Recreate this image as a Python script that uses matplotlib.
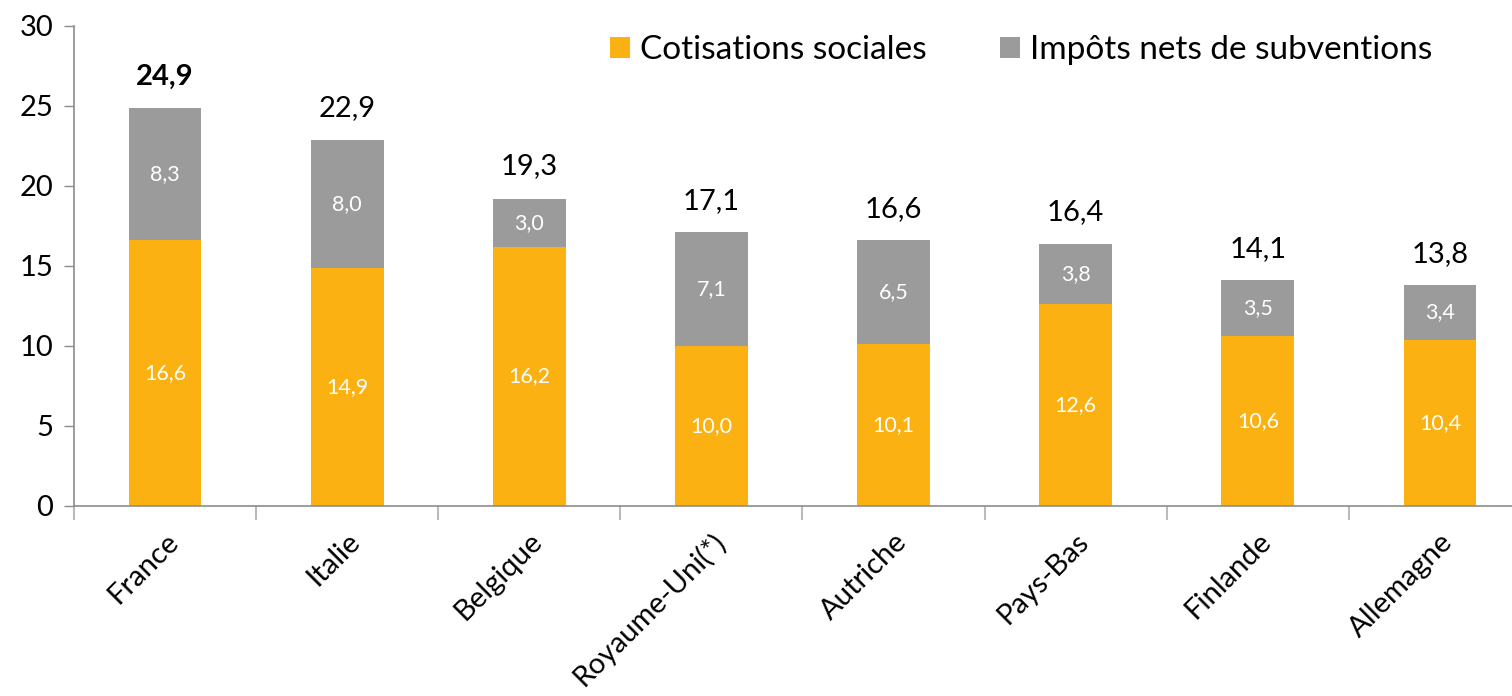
import numpy as np
import matplotlib.pyplot as plt

plt.rcParams['font.family'] = ['Lato', 'DejaVu Sans']

# data
pays = ["France", "Italie", "Belgique", "Royaume-Uni(*)", "Autriche",
        "Pays-Bas", "Finlande", "Allemagne"]
cotisations = [16.6, 14.9, 16.2, 10.0, 10.1, 12.6, 10.6, 10.4]
impots = [8.3, 8.0, 3.0, 7.1, 6.5, 3.8, 3.5, 3.4]
totaux = [24.9, 22.9, 19.3, 17.1, 16.6, 16.4, 14.1, 13.8]

ORANGE = "#FBB111"
GRIS = "#9B9B9B"
AXE = "#8C8C8C"


def fr(v):
    return f"{v:.1f}".replace(".", ",")


fig = plt.figure(figsize=(15.12, 6.96), dpi=100)
ax = fig.add_axes([74 / 1512, 1 - 506 / 696, 1457 / 1512, 480 / 696])

x = np.arange(len(pays))
w = 0.40
b1 = ax.bar(x, cotisations, w, color=ORANGE, label="Cotisations sociales")
b2 = ax.bar(x, impots, w, bottom=cotisations, color=GRIS,
            label="Impôts nets de subventions")

# values inside the segments + totals on top
for i in range(len(pays)):
    ax.text(x[i], cotisations[i] / 2, fr(cotisations[i]), ha="center",
            va="center", color="white", fontsize=15.5)
    ax.text(x[i], cotisations[i] + impots[i] / 2, fr(impots[i]), ha="center",
            va="center", color="white", fontsize=15.5)
    ax.annotate(fr(totaux[i]), (x[i], totaux[i]), xytext=(0, 13),
                textcoords="offset points", ha="center", va="bottom",
                fontsize=21, color="black",
                fontweight="bold" if i == 0 else "normal")

ax.set_xlim(-0.5, len(pays) - 0.5)
ax.set_ylim(0, 30)
ax.set_yticks(range(0, 31, 5))
ax.tick_params(axis="y", labelsize=21, length=7, color=AXE, width=1, pad=8)

# category ticks on the boundaries, labels centred under bars
ax.set_xticks(np.arange(len(pays) + 1) - 0.5)
ax.set_xticklabels([])
ax.tick_params(axis="x", which="major", length=10, color="#BBBBBB", width=1.5)
ax.set_xticks(x, minor=True)
ax.set_xticklabels(pays, minor=True, rotation=45, ha="right",
                   rotation_mode="anchor", fontsize=21)
ax.tick_params(axis="x", which="minor", length=0, pad=16)

for s in ["top", "right"]:
    ax.spines[s].set_visible(False)
for s in ["left", "bottom"]:
    ax.spines[s].set_color(AXE)
    ax.spines[s].set_linewidth(1.2)

fig.legend(handles=[b1, b2], loc="upper right",
           bbox_to_anchor=(1462 / 1512, 1 - 5 / 696), ncol=2, frameon=False,
           fontsize=24, handlelength=0.6, handleheight=0.6, handletextpad=0.3,
           columnspacing=2.2)

fig.savefig("out.png", dpi=100)
